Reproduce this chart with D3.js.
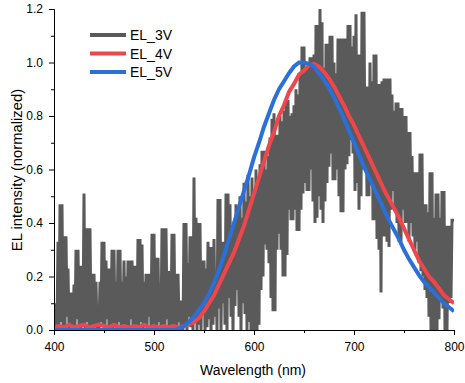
<!DOCTYPE html>
<html>
<head>
<script src="https://d3js.org/d3.v7.min.js"></script>
<style>
    body { margin: 0; background: #fff; }
    text { font-family: "Liberation Sans", Arial, sans-serif; fill: #000; }
</style>
</head>
<body>
<script>
    // EL_3V is very noisy: read as an upper value every 2 nm (400, 402 ... 800)
    // and a lower value in between (401, 403 ... 799)
    var el3Hi = [
        0.10, 0.10, 0.33, 0.47, 0.47, 0.35, 0.35, 0.23, 0.14, 0.14,
        0.17, 0.30, 0.30, 0.24, 0.24, 0.51, 0.38, 0.38, 0.38, 0.21,
        0.21, 0.18, 0.08, 0.18, 0.33, 0.33, 0.26, 0.23, 0.23, 0.30,
        0.30, 0.18, 0.30, 0.30, 0.18, 0.26, 0.20, 0.26, 0.26, 0.26,
        0.24, 0.24, 0.34, 0.34, 0.32, 0.18, 0.21, 0.21, 0.21, 0.36,
        0.36, 0.27, 0.27, 0.17, 0.38, 0.38, 0.38, 0.22, 0.22, 0.36,
        0.36, 0.21, 0.21, 0.11, 0.11, 0.40, 0.40, 0.25, 0.35, 0.35,
        0.57, 0.42, 0.40, 0.40, 0.26, 0.26, 0.23, 0.33, 0.31, 0.31,
        0.34, 0.22, 0.49, 0.49, 0.33, 0.33, 0.51, 0.51, 0.47, 0.39,
        0.39, 0.47, 0.45, 0.50, 0.42, 0.55, 0.48, 0.58, 0.50, 0.57,
        0.52, 0.60, 0.55, 0.62, 0.67, 0.67, 0.60, 0.65, 0.72, 0.79,
        0.81, 0.73, 0.73, 0.80, 0.78, 0.82, 0.86, 0.86, 0.80, 0.81,
        0.84, 0.90, 0.88, 0.95, 1.06, 1.06, 0.98, 0.98, 1.02, 1.02,
        1.03, 1.14, 1.14, 1.20, 1.15, 0.98, 1.07, 1.07, 1.10, 1.10,
        1.00, 0.96, 1.09, 1.09, 1.09, 1.09, 1.09, 1.14, 1.14, 1.06,
        1.10, 1.18, 1.03, 1.03, 1.19, 1.19, 0.91, 0.91, 1.00, 0.93,
        1.03, 1.03, 0.92, 0.92, 0.93, 0.94, 0.94, 0.94, 0.94, 0.88,
        0.82, 0.85, 0.85, 0.83, 0.83, 0.80, 0.80, 0.74, 0.74, 0.65,
        0.59, 0.59, 0.59, 0.66, 0.66, 0.47, 0.47, 0.44, 0.59, 0.59,
        0.42, 0.51, 0.51, 0.42, 0.52, 0.52, 0.39, 0.39, 0.39, 0.41,
        0.41
    ];
    var el3Lo = [
        0.00, 0.02, 0.00, 0.03, 0.00, 0.01, 0.05, 0.00, 0.02, 0.00,
        0.00, 0.04, 0.01, 0.00, 0.02, 0.00, 0.03, 0.00, 0.01, 0.00,
        0.02, 0.00, 0.00, 0.03, 0.01, 0.00, 0.04, 0.00, 0.02, 0.00,
        0.01, 0.00, 0.03, 0.00, 0.00, 0.02, 0.00, 0.01, 0.04, 0.00,
        0.00, 0.02, 0.00, 0.03, 0.00, 0.01, 0.00, 0.05, 0.00, 0.02,
        0.00, 0.00, 0.03, 0.00, 0.01, 0.00, 0.04, 0.00, 0.02, 0.00,
        0.01, 0.00, 0.03, 0.00, 0.00, 0.02, 0.00, 0.05, 0.01, 0.00,
        0.03, 0.00, 0.02, 0.00, 0.06, 0.00, 0.01, 0.04, 0.00, 0.02,
        0.05, 0.00, 0.08, 0.00, 0.10, 0.02, 0.00, 0.12, 0.05, 0.00,
        0.09, 0.15, 0.05, 0.00, 0.10, 0.06, 0.00, 0.03, 0.00, 0.00,
        0.00, 0.00, 0.02, 0.15, 0.20, 0.32, 0.30, 0.25, 0.12, 0.07,
        0.07, 0.30, 0.36, 0.30, 0.20, 0.20, 0.28, 0.45, 0.41, 0.41,
        0.45, 0.37, 0.37, 0.45, 0.51, 0.55, 0.52, 0.52, 0.60, 0.48,
        0.40, 0.42, 0.50, 0.45, 0.40, 0.48, 0.55, 0.61, 0.66, 0.56,
        0.56, 0.60, 0.50, 0.44, 0.44, 0.60, 0.62, 0.65, 0.71, 0.66,
        0.52, 0.55, 0.45, 0.50, 0.60, 0.60, 0.50, 0.50, 0.55, 0.41,
        0.41, 0.34, 0.30, 0.14, 0.35, 0.35, 0.33, 0.31, 0.45, 0.52,
        0.45, 0.40, 0.33, 0.33, 0.45, 0.40, 0.40, 0.33, 0.40, 0.35,
        0.30, 0.33, 0.25, 0.22, 0.20, 0.15, 0.12, 0.05, 0.00, 0.00,
        0.00, 0.00, 0.04, 0.12, 0.08, 0.00, 0.00, 0.10, 0.12
    ];

    // EL_4V and EL_5V every 5 nm (400 ... 800)
    var el4 = [
        0.010, 0.015, 0.010, 0.020, 0.010, 0.015, 0.020, 0.010, 0.015, 0.020,
        0.015, 0.010, 0.020, 0.010, 0.015, 0.010, 0.015, 0.010, 0.020, 0.010,
        0.015, 0.010, 0.015, 0.010, 0.015, 0.010, 0.015, 0.020, 0.030, 0.045,
        0.070, 0.100, 0.130, 0.170, 0.210, 0.250, 0.290, 0.340, 0.390, 0.450,
        0.510, 0.570, 0.630, 0.690, 0.740, 0.800, 0.840, 0.890, 0.920, 0.955,
        0.970, 0.990, 0.995, 0.985, 0.965, 0.940, 0.910, 0.875, 0.840, 0.800,
        0.765, 0.725, 0.685, 0.645, 0.605, 0.565, 0.525, 0.490, 0.455, 0.420,
        0.380, 0.340, 0.300, 0.260, 0.230, 0.200, 0.180, 0.155, 0.130, 0.115,
        0.100
    ];
    var el5 = [
        0.000, 0.000, 0.000, 0.000, 0.000, 0.000, 0.000, 0.000, 0.000, 0.000,
        0.000, 0.000, 0.000, 0.000, 0.000, 0.000, 0.000, 0.000, 0.000, 0.000,
        0.000, 0.000, 0.000, 0.000, 0.000, 0.005, 0.015, 0.030, 0.050, 0.075,
        0.100, 0.135, 0.175, 0.225, 0.280, 0.340, 0.400, 0.460, 0.520, 0.580,
        0.645, 0.700, 0.760, 0.810, 0.860, 0.900, 0.930, 0.960, 0.985, 1.000,
        1.000, 0.995, 0.985, 0.960, 0.935, 0.905, 0.870, 0.830, 0.790, 0.745,
        0.700, 0.655, 0.610, 0.570, 0.530, 0.490, 0.450, 0.410, 0.375, 0.340,
        0.300, 0.265, 0.235, 0.205, 0.180, 0.160, 0.140, 0.120, 0.100, 0.085,
        0.070
    ];

    var xTicks = [400, 500, 600, 700, 800];
    var xMinor = [450, 550, 650, 750];
    var yTicks = [0, 0.2, 0.4, 0.6, 0.8, 1.0, 1.2];
    var yMinor = [0.1, 0.3, 0.5, 0.7, 0.9, 1.1];

    var series = [
        { name: "EL_3V", color: "#5a5a5a", width: 3 },
        { name: "EL_4V", color: "#ef464c", width: 4 },
        { name: "EL_5V", color: "#2a70d8", width: 4 }
    ];

    var pts3 = [];
    el3Hi.forEach(function(v, i) {
        pts3.push([400 + 2 * i, v]);
        if (i < el3Lo.length) pts3.push([401 + 2 * i, el3Lo[i]]);
    });
    var pts4 = el4.map(function(v, i) { return [400 + 5 * i, v]; });
    var pts5 = el5.map(function(v, i) { return [400 + 5 * i, v]; });

    var w = 465, h = 383;
    var svg = d3.select("body").append("svg")
        .attr("width", w)
        .attr("height", h);

    var x = d3.scaleLinear().domain([400, 800]).range([54, 454]);
    var y = d3.scaleLinear().domain([0, 1.2]).range([330, 9]);

    svg.append("clipPath").attr("id", "clip")
        .append("rect")
        .attr("x", 54).attr("y", 9)
        .attr("width", 400).attr("height", 321);

    var line = d3.line()
        .x(function(d) { return x(d[0]); })
        .y(function(d) { return y(d[1]); });

    var plot = svg.append("g").attr("clip-path", "url(#clip)");
    [pts3, pts4, pts5].forEach(function(pts, i) {
        plot.append("path")
            .datum(pts)
            .attr("fill", "none")
            .attr("stroke", series[i].color)
            .attr("stroke-width", series[i].width)
            .attr("stroke-linejoin", "miter")
            .attr("d", line);
    });

    // axes
    var xAxis = svg.append("g").attr("transform", "translate(0,330)")
        .call(d3.axisBottom(x).tickValues(xTicks).tickSize(5).tickPadding(7)
            .tickFormat(d3.format("d")));
    var xAxisMinor = svg.append("g").attr("transform", "translate(0,330)")
        .call(d3.axisBottom(x).tickValues(xMinor).tickSize(3).tickFormat(""));
    var yAxis = svg.append("g").attr("transform", "translate(54,0)")
        .call(d3.axisLeft(y).tickValues(yTicks).tickSize(5).tickPadding(6)
            .tickFormat(d3.format(".1f")));
    var yAxisMinor = svg.append("g").attr("transform", "translate(54,0)")
        .call(d3.axisLeft(y).tickValues(yMinor).tickSize(3).tickFormat(""));

    svg.selectAll(".domain").attr("stroke", "#000").attr("stroke-width", 1);
    svg.selectAll(".tick line").attr("stroke", "#000").attr("stroke-width", 1);
    svg.selectAll(".tick text").style("font-size", "12px");
    xAxisMinor.select(".domain").remove();
    yAxisMinor.select(".domain").remove();

    svg.append("text")
        .attr("x", 253).attr("y", 375)
        .attr("text-anchor", "middle")
        .style("font-size", "14px")
        .text("Wavelength (nm)");

    svg.append("text")
        .attr("transform", "translate(22,170) rotate(-90)")
        .attr("text-anchor", "middle")
        .style("font-size", "14.8px")
        .text("EL intensity (normalized)");

    // legend
    var legend = svg.append("g");
    series.forEach(function(s, i) {
        var ly = 35 + i * 18.5;
        legend.append("line")
            .attr("x1", 90).attr("x2", 126)
            .attr("y1", ly).attr("y2", ly)
            .attr("stroke", s.color)
            .attr("stroke-width", 4);
        legend.append("text")
            .attr("x", 130).attr("y", ly)
            .attr("dy", "0.36em")
            .style("font-size", "14px")
            .text(s.name);
    });
</script>
</body>
</html>
